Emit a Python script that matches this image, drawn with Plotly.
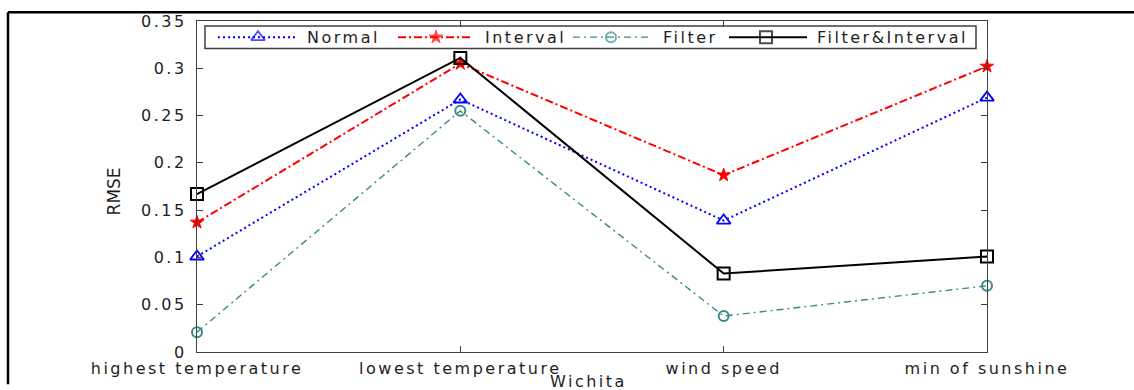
import plotly.graph_objects as go

# ---- data -------------------------------------------------------------
categories = ["highest temperature", "lowest temperature", "wind speed", "min of sunshine"]
series_names = ["Normal", "Interval", "Filter", "Filter&Interval"]
normal = [0.101, 0.267, 0.139, 0.269]
interval = [0.137, 0.305, 0.187, 0.302]
filter_only = [0.021, 0.255, 0.038, 0.070]
filter_interval = [0.167, 0.311, 0.083, 0.101]
y_tick_values = [0.0, 0.05, 0.1, 0.15, 0.2, 0.25, 0.3, 0.35]
y_tick_labels = ["0", "0.05", "0.1", "0.15", "0.2", "0.25", "0.3", "0.35"]
x_title = "Wichita"
y_title = "RMSE"

# ---- geometry (pixels) -----------------------------------------------
W, H = 1134, 390
PL, PR, PT, PB = 197, 987, 21, 359          # plot area
FONT = "DejaVu Sans"
TEXT_COLOR = "#1e1e1e"
AXIS_COLOR = "#404040"
SPACING = 2.5


def spaced(text, spacing=SPACING):
    return f'<span style="letter-spacing:{spacing}px">{text}</span>'


def px_x(px):
    return (px - PL) / (PR - PL)


def px_y(py):
    return (PB - py) / (PB - PT)


styles = [
    dict(color="#0000ff", dash="2px,3px", width=2.0, symbol="triangle-up-open", size=12, mline=1.8),
    dict(color="#ff0000", dash="8px,3px,2px,3px", width=2.0, symbol="star", size=10, mline=1.0),
    dict(color="#3a8a8a", dash="7px,4px,2px,4px", width=1.4, symbol="circle-open", size=10, mline=2.0),
    dict(color="#000000", dash="solid", width=2.0, symbol="square-open", size=12, mline=2.0),
]
values = [normal, interval, filter_only, filter_interval]
positions = list(range(len(categories)))

fig = go.Figure()

for name, vals, st in zip(series_names, values, styles):
    fig.add_trace(go.Scatter(
        x=positions, y=vals, name=name, mode="lines+markers",
        line=dict(color=st["color"], width=st["width"], dash=st["dash"]),
        marker=dict(symbol=st["symbol"], size=st["size"], color=st["color"],
                    line=dict(color=st["color"], width=st["mline"])),
        cliponaxis=False, showlegend=False,
    ))

# ---- hand-drawn legend on a pixel overlay axis ----------------------
legend_box = (205, 976, 26, 49)
legend_mid_y = 37.5
legend_slots = [  # line start, line end, marker x, text x
    (218, 297, 258, 305),
    (398, 473, 436, 483),
    (573, 648, 611, 661),
    (729, 807, 766, 815),
]

fig.add_shape(type="rect", xref="x2", yref="y2",
              x0=legend_box[0], x1=legend_box[1], y0=legend_box[2], y1=legend_box[3],
              line=dict(color=AXIS_COLOR, width=1.5), fillcolor="white", layer="below")

for name, st, (lx0, lx1, mx, tx) in zip(series_names, styles, legend_slots):
    fig.add_trace(go.Scatter(
        x=[lx0, mx, lx1], y=[legend_mid_y] * 3, xaxis="x2", yaxis="y2",
        mode="lines+markers",
        line=dict(color=st["color"], width=st["width"], dash=st["dash"]),
        marker=dict(symbol=st["symbol"], size=[0, st["size"], 0], color=st["color"],
                    line=dict(color=st["color"], width=st["mline"])),
        cliponaxis=False, showlegend=False, hoverinfo="skip",
    ))
    fig.add_annotation(x=tx, y=legend_mid_y, xref="x2", yref="y2", text=spaced(name),
                       showarrow=False, xanchor="left", yanchor="middle",
                       font=dict(family=FONT, size=16, color=TEXT_COLOR))

# ---- axis titles -----------------------------------------------------
fig.add_annotation(x=px_x(114), y=px_y(195), xref="paper", yref="paper", text=y_title,
                   textangle=-90, showarrow=False, xanchor="center", yanchor="middle",
                   font=dict(family=FONT, size=17, color=TEXT_COLOR))
fig.add_annotation(x=px_x(588), y=px_y(377), xref="paper", yref="paper", text=spaced(x_title),
                   showarrow=False, xanchor="center", yanchor="top",
                   font=dict(family=FONT, size=16, color=TEXT_COLOR))

# ---- outer frame lines -----------------------------------------------
fig.add_shape(type="line", xref="paper", yref="paper",
              x0=px_x(8), x1=px_x(W + 2), y0=px_y(12), y1=px_y(12),
              line=dict(color="black", width=2.5))
fig.add_shape(type="line", xref="paper", yref="paper",
              x0=px_x(8), x1=px_x(8), y0=px_y(12), y1=px_y(H + 2),
              line=dict(color="black", width=2.5))

axis_common = dict(showline=True, linecolor=AXIS_COLOR, linewidth=1.4, mirror="ticks",
                   ticks="inside", ticklen=6, tickcolor=AXIS_COLOR, tickwidth=1.2,
                   showgrid=False, zeroline=False,
                   tickfont=dict(family=FONT, size=16, color=TEXT_COLOR))

fig.update_layout(
    width=W, height=H,
    margin=dict(l=PL, r=W - PR, t=PT, b=H - PB, pad=0),
    paper_bgcolor="white", plot_bgcolor="white",
    showlegend=False,
    xaxis=dict(range=[positions[0], positions[-1]], tickmode="array", tickvals=positions,
               ticktext=[spaced(c) for c in categories], ticklabelstandoff=2, **axis_common),
    yaxis=dict(range=[0, 0.35], tickmode="array", tickvals=y_tick_values,
               ticktext=[spaced(t) for t in y_tick_labels], ticklabelstandoff=6, **axis_common),
    xaxis2=dict(domain=[0, 1], range=[PL, PR], overlaying="x", anchor="y2", visible=False),
    yaxis2=dict(domain=[0, 1], range=[PB, PT], overlaying="y", anchor="x2", visible=False),
)

fig.write_html("out.html")
